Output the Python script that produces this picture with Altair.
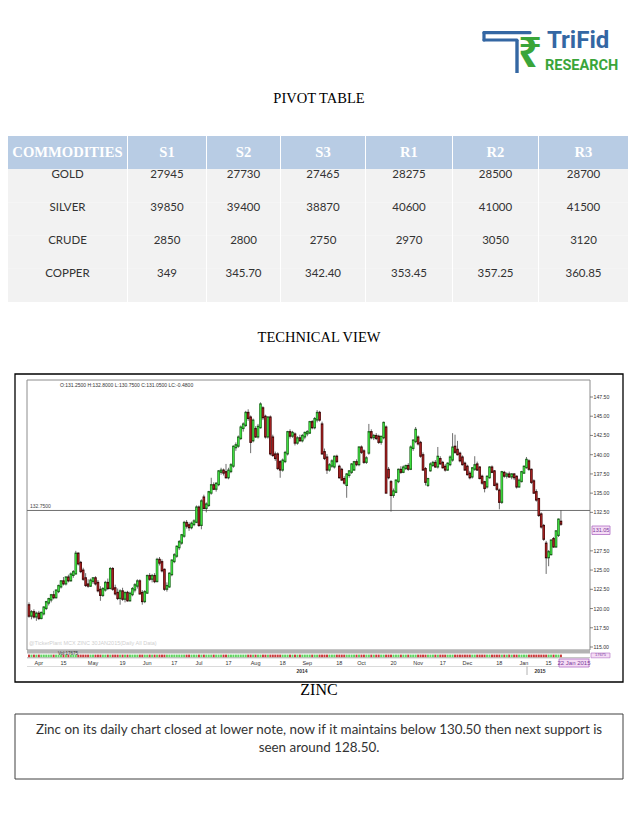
import altair as alt
import numpy as np
import pandas as pd

# ---------------- Pivot table ----------------
table_headers = ["COMMODITIES", "S1", "S2", "S3", "R1", "R2", "R3"]
commodities = ["GOLD", "SILVER", "CRUDE", "COPPER"]
s1 = ["27945", "39850", "2850", "349"]
s2 = ["27730", "39400", "2800", "345.70"]
s3 = ["27465", "38870", "2750", "342.40"]
r1 = ["28275", "40600", "2970", "353.45"]
r2 = ["28500", "41000", "3050", "357.25"]
r3 = ["28700", "41500", "3120", "360.85"]
col_values = [commodities, s1, s2, s3, r1, r2, r3]

# ---------------- Zinc daily candles ----------------
start_date = "2014-03-26"
opens = [
    120.4, 119.1, 119.5, 119.0, 119.3, 118.8, 119.4, 120.1, 120.8, 121.2,
    121.7, 121.5, 122.3, 122.9, 123.5, 123.3, 124.0, 123.7, 124.4, 124.6,
    127.1, 125.9, 124.9, 123.9, 123.1, 123.0, 123.6, 123.9, 123.3, 122.4,
    121.8, 122.5, 123.3, 122.7, 125.1, 122.6, 122.0, 121.4, 122.2, 121.3,
    122.0, 121.1, 121.9, 122.5, 123.0, 123.5, 122.0, 121.0, 122.1, 124.2,
    123.9, 124.2, 123.6, 126.3, 126.0, 125.0, 122.6, 122.9, 124.5, 126.2,
    126.9, 128.0, 128.6, 129.5, 131.1, 130.8, 130.6, 131.0, 131.3, 133.1,
    130.9, 134.4, 133.1, 133.5, 135.1, 136.0, 135.6, 136.2, 137.8, 137.9,
    137.7, 137.1, 137.9, 138.6, 141.0, 141.2, 142.2, 143.5, 143.9, 145.4,
    144.8, 141.9, 143.3, 142.4, 143.6, 146.0, 144.9, 142.4, 144.8, 142.2,
    140.0, 140.0, 139.0, 138.1, 139.2, 140.2, 142.9, 142.5, 142.6, 141.6,
    142.1, 141.9, 142.4, 142.8, 142.9, 144.2, 143.6, 144.6, 145.4, 143.9,
    140.3, 139.6, 138.1, 138.6, 138.5, 139.7, 138.4, 138.0, 136.8, 136.1,
    137.4, 137.8, 138.1, 139.0, 138.8, 140.9, 140.4, 139.1, 140.3, 142.9,
    142.3, 142.4, 142.3, 141.7, 142.3, 143.5, 138.0, 136.4, 134.8, 135.2,
    136.6, 138.0, 137.8, 138.3, 138.5, 138.2, 140.9, 141.8, 142.2, 141.5,
    139.9, 138.1, 136.1, 138.0, 138.7, 138.9, 138.5, 139.4, 138.9, 138.4,
    138.1, 138.8, 139.4, 141.0, 140.6, 140.1, 139.6, 138.8, 138.4, 137.5,
    137.2, 138.2, 138.7, 138.3, 137.1, 136.4, 135.9, 137.1, 138.3, 137.8,
    136.1, 135.3, 133.9, 137.6, 137.3, 137.4, 137.2, 137.4, 137.1, 135.9,
    136.6, 137.7, 138.4, 139.1, 138.0, 136.5, 135.1, 134.2, 132.2, 130.7,
    128.4, 126.7, 127.1, 129.0, 128.1, 129.6, 131.25,
]
highs = [
    120.8, 119.8, 119.9, 119.6, 119.7, 119.6, 120.3, 121.0, 121.4, 121.9,
    122.3, 122.5, 123.1, 123.7, 124.1, 124.2, 124.4, 124.7, 125.0, 127.5,
    127.3, 126.2, 125.3, 124.6, 123.8, 123.9, 124.1, 124.2, 123.7, 122.9,
    122.8, 123.6, 123.9, 125.4, 125.4, 123.1, 122.6, 122.5, 122.7, 122.2,
    122.3, 122.2, 122.8, 123.3, 123.8, 123.8, 122.4, 122.4, 124.4, 124.6,
    124.5, 124.6, 126.6, 126.7, 126.4, 125.2, 123.4, 124.7, 126.4, 127.2,
    128.2, 128.9, 129.7, 131.4, 131.5, 131.2, 131.3, 131.6, 133.4, 133.4,
    134.2, 134.8, 133.8, 135.3, 137.0, 136.4, 136.4, 138.0, 138.3, 138.2,
    138.8, 138.3, 138.9, 141.2, 141.6, 142.5, 143.8, 144.2, 145.7, 145.9,
    145.1, 144.7, 143.7, 144.0, 146.8, 146.3, 145.2, 145.0, 145.1, 142.6,
    140.4, 140.3, 139.3, 139.5, 140.5, 143.1, 143.3, 143.1, 142.9, 142.4,
    142.6, 142.7, 143.0, 143.2, 144.4, 144.5, 144.9, 145.8, 145.7, 144.3,
    140.8, 140.1, 138.9, 139.4, 139.9, 140.0, 138.7, 138.3, 137.2, 137.6,
    138.0, 138.9, 139.2, 139.4, 141.1, 141.2, 140.7, 139.8, 144.0, 143.3,
    142.7, 142.8, 142.6, 142.4, 144.3, 143.8, 138.4, 136.7, 135.6, 136.8,
    138.2, 138.5, 138.6, 138.7, 138.9, 141.2, 142.0, 143.6, 142.5, 141.8,
    140.3, 138.4, 137.0, 139.0, 139.2, 139.3, 141.0, 139.8, 139.2, 138.8,
    139.0, 139.9, 142.8, 142.6, 141.8, 140.4, 139.9, 139.1, 138.7, 137.9,
    138.4, 139.8, 139.1, 138.5, 137.4, 136.6, 137.3, 138.5, 138.6, 138.0,
    136.4, 135.6, 137.9, 137.9, 137.7, 137.8, 137.6, 137.6, 137.3, 136.9,
    137.9, 138.6, 139.7, 139.4, 138.2, 136.8, 135.5, 134.4, 132.5, 131.0,
    128.8, 127.6, 129.0, 129.3, 130.2, 131.7, 132.8,
]
lows = [
    118.8, 118.6, 118.7, 118.4, 118.5, 118.6, 119.1, 119.8, 120.4, 120.8,
    121.2, 121.3, 122.0, 122.6, 123.0, 123.0, 123.4, 123.5, 124.0, 124.4,
    125.6, 124.6, 123.6, 122.8, 122.7, 122.8, 123.2, 123.0, 122.1, 121.0,
    121.5, 122.2, 122.4, 122.5, 122.3, 121.7, 121.1, 120.5, 121.0, 120.8,
    120.9, 120.9, 121.6, 122.1, 122.6, 121.8, 120.5, 120.7, 121.9, 123.6,
    123.4, 123.3, 123.4, 125.6, 124.7, 122.3, 122.2, 122.7, 124.2, 125.9,
    126.6, 127.6, 128.3, 129.2, 130.4, 130.1, 130.3, 130.7, 131.1, 130.6,
    130.3, 132.9, 132.5, 133.2, 134.8, 135.4, 135.2, 135.9, 137.4, 137.3,
    136.9, 136.8, 137.6, 138.3, 140.5, 140.9, 141.9, 143.0, 143.6, 144.4,
    140.2, 141.6, 142.2, 142.1, 143.4, 144.5, 142.1, 142.1, 139.9, 139.7,
    139.2, 138.0, 137.0, 137.8, 138.9, 139.9, 142.1, 142.2, 141.2, 141.3,
    141.7, 141.6, 142.0, 142.4, 142.7, 143.3, 143.3, 144.2, 144.3, 140.0,
    139.3, 137.5, 137.8, 138.3, 138.2, 138.9, 136.9, 136.6, 136.1, 134.4,
    137.0, 137.5, 137.9, 138.5, 138.5, 140.1, 138.8, 138.8, 140.0, 142.0,
    141.9, 141.9, 141.4, 141.3, 142.0, 135.0, 136.8, 132.6, 134.4, 135.0,
    136.3, 137.5, 137.6, 138.0, 137.9, 138.0, 140.5, 141.5, 141.2, 139.6,
    137.9, 136.0, 135.8, 137.8, 138.4, 138.3, 138.2, 138.7, 138.2, 137.8,
    137.9, 138.5, 139.1, 140.1, 139.9, 139.0, 138.6, 137.9, 137.3, 136.8,
    136.9, 137.9, 137.9, 136.8, 136.1, 135.1, 135.6, 136.9, 137.6, 135.9,
    135.3, 132.9, 133.6, 137.0, 136.9, 137.0, 136.8, 136.7, 135.6, 135.7,
    136.4, 137.5, 138.2, 137.9, 136.2, 134.9, 133.9, 131.9, 130.4, 128.8,
    124.5, 125.5, 126.9, 127.9, 127.9, 129.3, 130.75,
]
closes = [
    119.1, 119.5, 119.0, 119.3, 118.8, 119.4, 120.1, 120.8, 121.2, 121.7,
    121.5, 122.3, 122.9, 123.5, 123.3, 124.0, 123.7, 124.4, 124.7, 127.1,
    125.9, 124.9, 123.9, 123.1, 123.0, 123.6, 123.9, 123.3, 122.4, 121.8,
    122.5, 123.3, 122.7, 125.1, 122.6, 122.0, 121.4, 122.2, 121.3, 122.0,
    121.1, 121.9, 122.5, 123.0, 123.5, 122.0, 121.0, 122.1, 124.2, 123.9,
    124.2, 123.6, 126.3, 126.0, 125.0, 122.6, 122.9, 124.5, 126.2, 126.9,
    128.0, 128.6, 129.5, 131.1, 130.8, 130.6, 131.0, 131.3, 133.1, 130.9,
    133.9, 133.1, 133.5, 135.1, 136.0, 135.6, 136.2, 137.8, 137.9, 137.7,
    137.1, 137.9, 138.6, 141.0, 141.2, 142.2, 143.5, 143.9, 145.4, 144.8,
    141.7, 144.4, 142.4, 143.6, 146.5, 144.9, 142.4, 144.8, 140.2, 140.0,
    139.6, 138.3, 138.1, 139.2, 140.2, 142.9, 142.5, 142.8, 141.6, 142.1,
    141.9, 142.4, 142.8, 142.9, 144.2, 143.6, 144.6, 145.4, 144.6, 140.2,
    139.6, 138.1, 138.6, 139.1, 139.7, 139.2, 137.1, 136.8, 136.4, 137.4,
    137.8, 138.7, 139.0, 138.8, 140.9, 140.4, 139.1, 139.5, 142.9, 142.3,
    142.4, 142.2, 141.7, 142.3, 144.1, 135.1, 137.1, 134.8, 135.2, 136.6,
    138.0, 137.8, 138.3, 138.5, 138.2, 140.9, 141.8, 143.2, 141.5, 139.9,
    138.1, 136.5, 136.8, 138.7, 138.9, 138.5, 139.7, 138.9, 138.4, 138.1,
    138.8, 139.6, 140.9, 140.4, 140.1, 139.3, 138.8, 138.1, 137.5, 137.1,
    138.2, 138.6, 138.1, 137.0, 136.4, 135.7, 137.1, 138.3, 137.8, 136.1,
    135.6, 133.9, 137.7, 137.3, 137.4, 137.2, 137.4, 137.1, 135.9, 136.6,
    137.7, 138.4, 139.3, 138.2, 136.5, 135.1, 134.2, 132.2, 130.7, 129.1,
    126.7, 127.3, 128.8, 128.1, 130.0, 131.53, 131.05,
]
x_tick_dates = ["2014-04-01", "2014-04-15", "2014-05-01", "2014-05-19", "2014-06-02",
                "2014-06-17", "2014-07-01", "2014-07-17", "2014-08-01", "2014-08-18",
                "2014-09-01", "2014-09-18", "2014-10-01", "2014-10-20", "2014-11-03",
                "2014-11-17", "2014-12-01", "2014-12-18", "2015-01-01", "2015-01-15"]
x_tick_labels = ["Apr", "15", "May", "19", "Jun", "17", "Jul", "17", "Aug", "18",
                 "Sep", "18", "Oct", "20", "Nov", "17", "Dec", "18", "Jan", "15"]
y_tick_values = [147.5, 145.0, 142.5, 140.0, 137.5, 135.0, 132.5,
                 127.5, 125.0, 122.5, 120.0, 117.5, 115.0]
pivot_level = [132.75]
info_line = "O:131.2500  H:132.8000  L:130.7500  C:131.0500  LC:-0.4800"
comment_lines = ["Zinc on its daily chart closed at lower note, now if it maintains below 130.50 then next support is",
                 "seen around 128.50."]

# ---------------- frames ----------------
n = len(closes)
dates = pd.bdate_range(start_date, periods=n)
date_str = list(dates.strftime("%Y-%m-%d"))
candles = pd.DataFrame({"i": np.arange(n), "open": opens, "high": highs,
                        "low": lows, "close": closes})
xlab = pd.DataFrame({"idx": [date_str.index(d) for d in x_tick_dates], "label": x_tick_labels})
ylab = pd.DataFrame({"v": y_tick_values, "lbl": [f"{v:.2f}" for v in y_tick_values]})
piv = pd.DataFrame({"p": pivot_level})
one = pd.DataFrame({"k": [0]})

BLUE = "#3467a3"
LGREEN = "#3aa53a"


def vtext(text, x, y, **kw):
    kw.setdefault("baseline", "middle")
    return alt.Chart(one).mark_text(text=text, **kw).encode(x=alt.value(x), y=alt.value(y))


def vrule(x, y, x2, y2, **kw):
    return alt.Chart(one).mark_rule(**kw).encode(
        x=alt.value(x), y=alt.value(y), x2=alt.value(x2), y2=alt.value(y2))


def vrect(x, y, x2, y2, **kw):
    return alt.Chart(one).mark_rect(**kw).encode(
        x=alt.value(x), y=alt.value(y), x2=alt.value(x2), y2=alt.value(y2))


# ---------------- header with logo ----------------
header = alt.layer(
    vrule(476, 24.7, 522, 24.7, color=BLUE, strokeWidth=3.2, strokeCap="round"),
    vrule(476, 24.7, 476, 32, color=BLUE, strokeWidth=3.2, strokeCap="round"),
    vrule(476, 32, 509, 32, color=BLUE, strokeWidth=3.0, strokeCap="round"),
    vrule(509, 32, 509, 65, color=BLUE, strokeWidth=3.4),
    vtext("₹", 522, 46, font="Noto Sans", fontSize=42, fontWeight="bold", color=LGREEN),
    vtext("TriFid", 539, 40, align="left", baseline="alphabetic", font="Roboto",
          fontSize=24, fontWeight="bold", color=BLUE),
    vtext("RESEARCH", 537, 62, align="left", baseline="alphabetic",
          font="Roboto", fontSize=14.5, fontWeight="bold", color=LGREEN),
    vtext("PIVOT TABLE", 311, 91, font="Liberation Serif", fontSize=14.5, color="black"),
).properties(width=622, height=128)

# ---------------- table ----------------
col_widths = [119, 78, 73, 84, 86, 85, 89]
rows_order = ["HEAD"] + commodities
yrow = alt.Scale(domain=rows_order, paddingInner=0, paddingOuter=0)
cols = []
for name, vals, w in zip(table_headers, col_values, col_widths):
    hdf = pd.DataFrame({"row": ["HEAD"], "label": [name]})
    bdf = pd.DataFrame({"row": commodities, "label": vals})
    Y = alt.Y("row:N", scale=yrow, axis=None)
    cols.append(alt.layer(
        alt.Chart(hdf).mark_rect(color="#b8cce4").encode(y=Y, x=alt.value(0), x2=alt.value(w)),
        alt.Chart(bdf).mark_rect(color="#f2f2f2").encode(y=Y, x=alt.value(0), x2=alt.value(w)),
        alt.Chart(hdf).mark_text(font="Liberation Serif", fontSize=14.6, fontWeight="bold",
                                 color="white", baseline="middle").encode(
            y=Y, x=alt.value(w / 2), text="label:N"),
        alt.Chart(bdf).mark_text(font="Lato", fontSize=11.5, color="#333333",
                                 baseline="middle", dy=-11).encode(
            y=Y, x=alt.value(w / 2), text="label:N"),
    ).properties(width=w, height=166))
table = alt.hconcat(*cols, spacing=1)

# ---------------- candlestick panel ----------------
XS = alt.Scale(domain=[-0.81, 227.8], range=[19, 582], zero=False, nice=False)
YS = alt.Scale(domain=[114.61, 149.71], range=[348, 78], zero=False, nice=False)
X = alt.X("i:Q", scale=XS, axis=None)
up = alt.datum.close >= alt.datum.open

wicks = alt.Chart(candles).mark_rule(color="#4a4a4a", strokeWidth=0.8).encode(
    x=X, y=alt.Y("low:Q", scale=YS, axis=None), y2="high:Q")
body_edge = alt.Chart(candles).mark_rule(strokeWidth=2.6, strokeCap="square").encode(
    x=X, y=alt.Y("open:Q", scale=YS, axis=None), y2="close:Q",
    color=alt.when(up).then(alt.value("#1d641d")).otherwise(alt.value("#3e0a0a")))
body_fill = alt.Chart(candles).mark_rule(strokeWidth=1.5).encode(
    x=X, y=alt.Y("open:Q", scale=YS, axis=None), y2="close:Q",
    color=alt.when(up).then(alt.value("#3fdc3f")).otherwise(alt.value("#a01f1f")))
vol = alt.Chart(candles).mark_rule(strokeWidth=2.0).encode(
    x=X, y=alt.value(352.6), y2=alt.value(355.2),
    color=alt.when(up).then(alt.value("#5fd35f")).otherwise(alt.value("#c83a3a")))
pivot_rule = alt.Chart(piv).mark_rule(color="#6f6f6f", strokeWidth=1).encode(
    y=alt.Y("p:Q", scale=YS, axis=None), x=alt.value(19), x2=alt.value(582))
pivot_text = alt.Chart(piv).mark_text(text="132.7500", align="left", baseline="bottom",
                                      fontSize=5, font="Liberation Sans", color="#444444", dy=-1).encode(
    y=alt.Y("p:Q", scale=YS, axis=None), x=alt.value(22))
ytick_rules = alt.Chart(ylab).mark_rule(color="#555555", strokeWidth=0.7).encode(
    y=alt.Y("v:Q", scale=YS, axis=None), x=alt.value(582), x2=alt.value(585))
ytick_text = alt.Chart(ylab).mark_text(align="left", baseline="middle", fontSize=5.2,
                                       font="Liberation Sans", color="#333333").encode(
    y=alt.Y("v:Q", scale=YS, axis=None), x=alt.value(585.5), text="lbl:N")
xtick_text = alt.Chart(xlab).mark_text(align="center", baseline="middle", fontSize=5.5,
                                       font="Liberation Sans", color="#333333").encode(
    x=alt.X("idx:Q", scale=XS, axis=None), y=alt.value(361), text="label:N")

cell = alt.layer(
    vtext("TECHNICAL VIEW", 311, 36, font="Liberation Serif", fontSize=14.5, color="black"),
    vrect(7, 72, 615, 380, fill="white", stroke="black", strokeWidth=1.3),
    vrect(19, 78, 582, 348, fillOpacity=0, stroke="#8c8c8c", strokeWidth=1),
    vrect(19, 348, 582, 351.5, color="#b3b3b3"),
    vrule(19, 355.8, 582, 355.8, color="#9a9a9a", strokeWidth=0.8),
    vrule(19, 364.5, 582, 364.5, color="#d0d0d0", strokeWidth=0.8),
    vrule(519, 364.5, 519, 373, color="#a0a0a0", strokeWidth=0.8),
    vtext(info_line, 52, 83, align="left", fontSize=5, font="Liberation Sans", color="#333333"),
    vtext("@TickerPlant MCX ZINC 30JAN2015(Daily All Data)", 21, 341, align="left",
          fontSize=5.5, font="Liberation Sans", color="#cfcfcf"),
    pivot_rule, pivot_text,
    wicks, body_edge, body_fill, vol,
    ytick_rules, ytick_text,
    vrect(584, 224, 602, 232.5, fill="#f5dcf5", stroke="#b06cc4", strokeWidth=0.8),
    vtext("131.05", 593, 228.3, fontSize=5.5, font="Liberation Sans", color="#7a3a9a"),
    vrect(583, 351, 602, 355.8, fill="#f5dcf5", stroke="#b06cc4", strokeWidth=0.6),
    vtext("17675", 592.5, 353.4, fontSize=4, font="Liberation Sans", color="#7a3a9a"),
    vtext("Vol:17675", 50, 351.6, align="left", fontSize=4.5, font="Liberation Sans", color="#333333"),
    xtick_text,
    vtext("2014", 294, 369, fontSize=5, fontWeight="bold", font="Liberation Sans", color="#333333"),
    vtext("2015", 532, 369, fontSize=5, fontWeight="bold", font="Liberation Sans", color="#333333"),
    vrect(551, 357, 581, 365, fill="#f5dcf5", stroke="#b06cc4", strokeWidth=0.8),
    vtext("22 Jan 2015", 566, 361, fontSize=6, font="Liberation Sans", color="#7a3a9a"),
    vtext("ZINC", 311, 388, font="Liberation Serif", fontSize=16, color="black"),
    vrect(7, 412, 615, 477, fillOpacity=0, stroke="#404040", strokeWidth=1),
    vtext(comment_lines[0], 311, 428, font="Lato", fontSize=13.4, color="#333333"),
    vtext(comment_lines[1], 311, 446, font="Lato", fontSize=13.4, color="#333333"),
).properties(width=622, height=496)

chart = alt.vconcat(header, table, cell, spacing=0, padding=0, background="white").configure_view(strokeWidth=0)
chart.save("out.html", embed_options={"renderer": "svg", "actions": False})
